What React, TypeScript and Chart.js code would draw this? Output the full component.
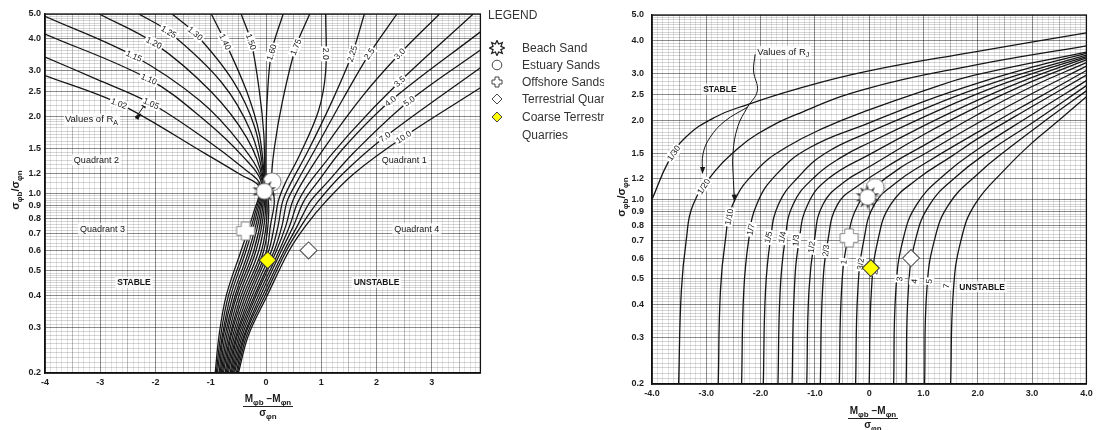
import React, { useEffect, useRef } from 'react';
import { Chart, registerables } from 'chart.js';

Chart.register(...registerables);

type Pt = [number, number];

// ---------- samples (same five samples plotted on both nomographs) ----------
const sampleNames = ['Beach Sand', 'Estuary Sands', 'Offshore Sands', 'Terrestrial Quarries', 'Coarse Terrestrial Quarries'];
const sampleMeanDiff = [-0.03, 0.11, -0.37, 0.77, 0.03];
const sampleSortRatio = [1.02, 1.11, 0.715, 0.6, 0.55];

// ---------- axes ----------
const yTickValues = [0.2, 0.3, 0.4, 0.5, 0.6, 0.7, 0.8, 0.9, 1.0, 1.2, 1.5, 2.0, 2.5, 3.0, 4.0, 5.0];
const leftXTickValues = [-4, -3, -2, -1, 0, 1, 2, 3];
const leftXTickLabels = ['-4', '-3', '-2', '-1', '0', '1', '2', '3'];
const rightXTickValues = [-4, -3, -2, -1, 0, 1, 2, 3, 4];
const rightXTickLabels = ['-4.0', '-3.0', '-2.0', '-1.0', '0', '1.0', '2.0', '3.0', '4.0'];

// ---------- left nomograph: values of R_A ----------
const raValues = ['1.02', '1.05', '1.10', '1.15', '1.20', '1.25', '1.30', '1.40', '1.50', '1.60', '1.75', '2.0', '2.25', '2.5', '3.0', '3.5', '4.0', '5.0', '7.0', '10.0'];
const raCurves: Pt[][] = [
  [[-4, 2.88], [-2.66, 2.24], [-1.1, 1.43], [-0.45, 1.18], [-0.12, 1.06], [-0.22, 0.85], [-0.45, 0.6], [-0.72, 0.4], [-0.85, 0.28], [-0.92, 0.2]],
  [[-4, 3.4], [-3.07, 2.79], [-2.08, 2.24], [-1.1, 1.63], [-0.4, 1.25], [-0.1, 1.08], [-0.19, 0.85], [-0.4, 0.6], [-0.68, 0.4], [-0.82, 0.28], [-0.9, 0.2]],
  [[-4, 4.18], [-2.12, 2.79], [-1.1, 1.92], [-0.4, 1.38], [-0.08, 1.1], [-0.16, 0.85], [-0.36, 0.6], [-0.64, 0.4], [-0.79, 0.28], [-0.88, 0.2]],
  [[-4, 4.9], [-2.39, 3.43], [-1.2, 2.3], [-0.45, 1.55], [-0.07, 1.12], [-0.13, 0.85], [-0.31, 0.6], [-0.6, 0.4], [-0.77, 0.28], [-0.85, 0.2]],
  [[-3.02, 5], [-2.03, 3.86], [-1.0, 2.5], [-0.35, 1.65], [-0.06, 1.13], [-0.1, 0.85], [-0.27, 0.6], [-0.56, 0.4], [-0.74, 0.28], [-0.83, 0.2]],
  [[-2.3, 5], [-1.76, 4.26], [-0.8, 2.7], [-0.28, 1.75], [-0.05, 1.14], [-0.07, 0.85], [-0.22, 0.6], [-0.53, 0.4], [-0.71, 0.28], [-0.81, 0.2]],
  [[-1.7, 5], [-1.28, 4.2], [-0.6, 2.75], [-0.2, 1.8], [-0.04, 1.15], [-0.04, 0.85], [-0.18, 0.6], [-0.49, 0.4], [-0.68, 0.28], [-0.79, 0.2]],
  [[-0.99, 5], [-0.74, 3.9], [-0.35, 2.5], [-0.12, 1.7], [-0.03, 1.15], [-0.01, 0.85], [-0.13, 0.6], [-0.45, 0.4], [-0.65, 0.28], [-0.77, 0.2]],
  [[-0.45, 5], [-0.27, 3.9], [-0.12, 2.5], [-0.04, 1.7], [-0.02, 1.15], [0.02, 0.85], [-0.08, 0.6], [-0.41, 0.4], [-0.63, 0.28], [-0.74, 0.2]],
  [[0.31, 5], [0.1, 3.55], [0.02, 2.3], [0.0, 1.6], [0.0, 1.15], [0.05, 0.85], [-0.04, 0.6], [-0.37, 0.4], [-0.6, 0.28], [-0.72, 0.2]],
  [[0.79, 5], [0.54, 3.72], [0.3, 2.3], [0.15, 1.5], [0.1, 1.12], [0.15, 0.93], [0.08, 0.75], [0.01, 0.6], [-0.33, 0.4], [-0.57, 0.28], [-0.7, 0.2]],
  [[1.08, 5], [1.08, 3.0], [0.95, 2.1], [0.6, 1.4], [0.35, 1.1], [0.22, 0.93], [0.15, 0.75], [0.05, 0.6], [-0.29, 0.4], [-0.54, 0.28], [-0.68, 0.2]],
  [[1.78, 5], [1.56, 3.5], [1.2, 2.3], [0.75, 1.45], [0.45, 1.1], [0.3, 0.93], [0.22, 0.75], [0.1, 0.6], [-0.25, 0.4], [-0.52, 0.28], [-0.65, 0.2]],
  [[2.37, 5], [1.87, 3.5], [1.4, 2.35], [0.9, 1.5], [0.55, 1.1], [0.38, 0.93], [0.29, 0.75], [0.15, 0.6], [-0.21, 0.4], [-0.49, 0.28], [-0.63, 0.2]],
  [[3.14, 5], [2.42, 3.5], [1.75, 2.4], [1.05, 1.5], [0.65, 1.1], [0.48, 0.93], [0.36, 0.75], [0.19, 0.6], [-0.18, 0.4], [-0.46, 0.28], [-0.61, 0.2]],
  [[3.75, 5], [2.42, 2.73], [1.5, 1.7], [0.85, 1.15], [0.58, 0.93], [0.43, 0.75], [0.24, 0.6], [-0.14, 0.4], [-0.43, 0.28], [-0.59, 0.2]],
  [[3.88, 4.26], [2.25, 2.29], [1.4, 1.5], [0.95, 1.12], [0.68, 0.93], [0.5, 0.75], [0.28, 0.6], [-0.1, 0.4], [-0.4, 0.28], [-0.57, 0.2]],
  [[3.88, 3.62], [2.59, 2.29], [1.6, 1.45], [1.1, 1.1], [0.8, 0.93], [0.57, 0.75], [0.33, 0.6], [-0.06, 0.4], [-0.38, 0.28], [-0.54, 0.2]],
  [[3.88, 3.09], [2.15, 1.66], [1.4, 1.2], [0.94, 0.93], [0.64, 0.75], [0.37, 0.6], [-0.02, 0.4], [-0.35, 0.28], [-0.52, 0.2]],
  [[3.88, 2.58], [2.49, 1.66], [1.6, 1.2], [1.08, 0.93], [0.72, 0.75], [0.42, 0.6], [0.02, 0.4], [-0.32, 0.28], [-0.5, 0.2]],
];
const raLabelX = [-2.66, -2.08, -2.12, -2.39, -2.03, -1.76, -1.28, -0.74, -0.27, 0.1, 0.54, 1.08, 1.56, 1.87, 2.42, 2.42, 2.25, 2.59, 2.15, 2.49];
const raLabelY = [2.24, 2.24, 2.79, 3.43, 3.86, 4.26, 4.2, 3.9, 3.9, 3.55, 3.72, 3.5, 3.5, 3.5, 3.5, 2.73, 2.29, 2.29, 1.66, 1.66];

const leftNotes = ['Quadrant 2', 'Quadrant 1', 'Quadrant 3', 'Quadrant 4', 'STABLE', 'UNSTABLE'];
const leftNoteX = [-3.07, 2.5, -2.96, 2.73, -2.39, 2.0];
const leftNoteY = [1.35, 1.35, 0.73, 0.73, 0.45, 0.45];
const leftArrows: Pt[][] = [
  [[-2.36, 1.95], [-2.27, 2.04]],
  [[-2.36, 1.97], [-2.16, 2.27]],
];

// ---------- right nomograph: values of R_J ----------
const rjValues = ['1/30', '1/20', '1/10', '1/7', '1/5', '1/4', '1/3', '1/2', '2/3', '1', '3/2', '2', '3', '4', '5', '7'];
const rjCurves: Pt[][] = [
  [[-4.0, 1.0], [-3.69, 1.4], [-3.38, 1.72], [-2.84, 2.05], [-2.24, 2.29], [-1.34, 2.62], [-0.07, 3.05], [1.92, 3.62], [4.0, 4.28]],
  [[-3.51, 0.2], [-3.46, 0.45], [-3.37, 0.7], [-3.24, 0.96], [-2.84, 1.28], [-2.48, 1.52], [-2.06, 1.77], [-1.34, 2.1], [-0.07, 2.62], [1.92, 3.22], [4.0, 3.82]],
  [[-2.78, 0.2], [-2.74, 0.45], [-2.65, 0.7], [-2.51, 0.96], [-2.06, 1.3], [-1.52, 1.58], [-0.8, 1.88], [-0.07, 2.16], [1.0, 2.58], [1.92, 2.95], [4.0, 3.62]],
  [[-2.35, 0.2], [-2.31, 0.45], [-2.22, 0.7], [-2.07, 0.96], [-1.7, 1.25], [-1.1, 1.57], [0.0, 1.95], [1.0, 2.35], [2.0, 2.76], [3.0, 3.17], [4.0, 3.58]],
  [[-1.95, 0.2], [-1.91, 0.45], [-1.82, 0.7], [-1.67, 0.96], [-1.3, 1.22], [-0.8, 1.5], [0.0, 1.8], [1.0, 2.2], [2.0, 2.64], [3.0, 3.08], [4.0, 3.52]],
  [[-1.68, 0.2], [-1.64, 0.45], [-1.55, 0.7], [-1.4, 0.96], [-1.0, 1.22], [-0.5, 1.45], [0.0, 1.64], [1.0, 2.05], [2.0, 2.52], [3.0, 3.0], [4.0, 3.48]],
  [[-1.42, 0.2], [-1.38, 0.45], [-1.29, 0.7], [-1.13, 0.96], [-0.75, 1.2], [0.0, 1.48], [1.0, 1.9], [2.0, 2.38], [3.0, 2.9], [4.0, 3.44]],
  [[-1.15, 0.2], [-1.11, 0.45], [-1.01, 0.7], [-0.85, 0.96], [-0.45, 1.17], [0.0, 1.33], [1.0, 1.76], [2.0, 2.25], [3.0, 2.8], [4.0, 3.38]],
  [[-0.9, 0.2], [-0.86, 0.45], [-0.76, 0.7], [-0.58, 0.96], [-0.2, 1.13], [0.5, 1.4], [1.0, 1.6], [2.0, 2.1], [3.0, 2.68], [4.0, 3.3]],
  [[-0.55, 0.2], [-0.51, 0.45], [-0.4, 0.7], [-0.2, 0.96], [0.11, 1.12], [0.6, 1.33], [1.0, 1.48], [2.0, 1.95], [3.0, 2.52], [4.0, 3.2]],
  [[-0.25, 0.2], [-0.21, 0.45], [-0.1, 0.7], [0.1, 0.96], [0.5, 1.16], [1.0, 1.36], [2.0, 1.8], [3.0, 2.36], [4.0, 3.08]],
  [[0.0, 0.2], [0.04, 0.45], [0.16, 0.7], [0.4, 0.96], [0.9, 1.2], [1.5, 1.45], [2.0, 1.7], [3.0, 2.25], [4.0, 2.96]],
  [[0.45, 0.2], [0.49, 0.45], [0.62, 0.7], [0.88, 0.96], [1.4, 1.25], [2.0, 1.55], [3.0, 2.1], [4.0, 2.82]],
  [[0.68, 0.2], [0.72, 0.45], [0.85, 0.7], [1.12, 0.96], [1.6, 1.22], [2.2, 1.52], [3.0, 1.95], [4.0, 2.7]],
  [[1.02, 0.2], [1.06, 0.45], [1.2, 0.7], [1.47, 0.96], [2.0, 1.25], [2.6, 1.58], [3.3, 2.03], [4.0, 2.58]],
  [[1.5, 0.2], [1.55, 0.45], [1.69, 0.7], [1.95, 0.96], [2.5, 1.3], [3.0, 1.64], [3.5, 2.0], [4.0, 2.45]],
];
const rjLabelX = [-3.6, -3.05, -2.58, -2.18, -1.86, -1.6, -1.35, -1.06, -0.8, -0.47, -0.16, 0.1, 0.56, 0.83, 1.1, 1.42];
const rjLabelY = [1.5, 1.12, 0.86, 0.77, 0.72, 0.72, 0.7, 0.66, 0.64, 0.58, 0.57, 0.53, 0.5, 0.49, 0.49, 0.47];

const rightNotes = ['STABLE', 'UNSTABLE'];
const rightNoteX = [-2.75, 2.08];
const rightNoteY = [2.62, 0.467];
const rightArrows: Pt[][] = [
  [[-2.1, 3.55], [-2.13, 3.07], [-2.06, 2.58], [-2.24, 2.24], [-2.42, 1.89], [-2.51, 1.49], [-2.5, 1.18], [-2.48, 0.99]],
  [[-2.24, 2.24], [-2.66, 1.98], [-2.93, 1.72], [-3.06, 1.49], [-3.07, 1.26]],
];

// ---------- styling helpers ----------
const FONT = '"Liberation Sans", Arial, Helvetica, sans-serif';
const INK = '#161616';

function near(a: number, b: number) {
  return Math.abs(a - b) < 1e-6;
}

function gridYValues(): number[] {
  const g: number[] = [];
  for (let v = 20; v < 50; v += 1) g.push(v / 100);
  for (let v = 50; v < 100; v += 2) g.push(v / 100);
  for (let v = 100; v < 200; v += 5) g.push(v / 100);
  for (let v = 200; v <= 500; v += 10) g.push(v / 100);
  return g;
}

function gridXValues(maxTenths: number): number[] {
  const g: number[] = [];
  for (let i = -40; i <= maxTenths; i++) g.push(i / 10);
  return g;
}

function makeMarkerCanvas(kind: string): HTMLCanvasElement {
  const c = document.createElement('canvas');
  const s = kind === 'sun' ? 28 : 22;
  c.width = s;
  c.height = s;
  const g = c.getContext('2d')!;
  g.translate(s / 2, s / 2);
  if (kind === 'sun') {
    g.fillStyle = '#2a2a2a';
    for (let k = 0; k < 10; k++) {
      const a = (k * Math.PI * 2) / 10 + 0.3;
      g.beginPath();
      g.moveTo(Math.cos(a - 0.22) * 7, Math.sin(a - 0.22) * 7);
      g.lineTo(Math.cos(a) * 12.5, Math.sin(a) * 12.5);
      g.lineTo(Math.cos(a + 0.22) * 7, Math.sin(a + 0.22) * 7);
      g.closePath();
      g.fill();
    }
    g.beginPath();
    g.arc(0, 0, 8, 0, Math.PI * 2);
    g.fillStyle = '#fff';
    g.fill();
    g.strokeStyle = '#666';
    g.lineWidth = 1;
    g.stroke();
  } else if (kind === 'circle') {
    g.beginPath();
    g.arc(0, 0, 9, 0, Math.PI * 2);
    g.fillStyle = '#fff';
    g.fill();
    g.strokeStyle = '#777';
    g.lineWidth = 1;
    g.stroke();
  } else {
    const a = 4.3;
    const L = 9;
    const pts = [[-a, -L], [a, -L], [a, -a], [L, -a], [L, a], [a, a], [a, L], [-a, L], [-a, a], [-L, a], [-L, -a], [-a, -a]];
    g.beginPath();
    pts.forEach(([x, y], i) => (i ? g.lineTo(x, y) : g.moveTo(x, y)));
    g.closePath();
    g.lineJoin = 'round';
    g.fillStyle = '#fff';
    g.fill();
    g.strokeStyle = '#888';
    g.lineWidth = 1;
    g.stroke();
  }
  return c;
}

function distToSeg(px: number, py: number, a: number[], b: number[]) {
  const dx = b[0] - a[0];
  const dy = b[1] - a[1];
  const l2 = dx * dx + dy * dy || 1;
  let t = ((px - a[0]) * dx + (py - a[1]) * dy) / l2;
  t = Math.max(0, Math.min(1, t));
  const qx = a[0] + t * dx;
  const qy = a[1] + t * dy;
  return Math.hypot(px - qx, py - qy);
}

function angleAt(curve: Pt[], lx: number, ly: number, xs: any, ys: any) {
  const P = curve.map(([a, b]) => [xs.getPixelForValue(a), ys.getPixelForValue(b)]);
  const lpx = xs.getPixelForValue(lx);
  const lpy = ys.getPixelForValue(ly);
  let best = 0;
  let bd = Infinity;
  for (let k = 0; k < P.length - 1; k++) {
    const d = distToSeg(lpx, lpy, P[k], P[k + 1]);
    if (d < bd) {
      bd = d;
      best = k;
    }
  }
  let ang = Math.atan2(P[best + 1][1] - P[best][1], P[best + 1][0] - P[best][0]);
  if (ang > Math.PI / 2) ang -= Math.PI;
  if (ang < -Math.PI / 2) ang += Math.PI;
  return ang;
}

function drawRotLabel(ctx: CanvasRenderingContext2D, text: string, px: number, py: number, ang: number, font: string) {
  ctx.save();
  ctx.translate(px, py);
  ctx.rotate(ang);
  ctx.font = font;
  const w = ctx.measureText(text).width;
  ctx.fillStyle = '#fff';
  ctx.fillRect(-w / 2 - 1.5, -5, w + 3, 10);
  ctx.fillStyle = INK;
  ctx.textAlign = 'center';
  ctx.textBaseline = 'middle';
  ctx.fillText(text, 0, 0.5);
  ctx.restore();
}

function drawNote(ctx: CanvasRenderingContext2D, text: string, px: number, py: number, font: string) {
  ctx.save();
  ctx.font = font;
  const w = ctx.measureText(text).width;
  ctx.fillStyle = 'rgba(255,255,255,0.75)';
  ctx.fillRect(px - w / 2 - 2, py - 5.5, w + 4, 11);
  ctx.fillStyle = INK;
  ctx.textAlign = 'center';
  ctx.textBaseline = 'middle';
  ctx.fillText(text, px, py + 0.5);
  ctx.restore();
}

function drawValuesOf(ctx: CanvasRenderingContext2D, sub: string, px: number, py: number) {
  ctx.save();
  ctx.font = `9.5px ${FONT}`;
  const main = 'Values of R';
  const w = ctx.measureText(main).width;
  ctx.font = `7px ${FONT}`;
  const ws = ctx.measureText(sub).width;
  ctx.fillStyle = 'rgba(255,255,255,0.8)';
  ctx.fillRect(px - 1, py - 6, w + ws + 3, 13);
  ctx.fillStyle = INK;
  ctx.textBaseline = 'middle';
  ctx.textAlign = 'left';
  ctx.font = `9.5px ${FONT}`;
  ctx.fillText(main, px, py);
  ctx.font = `7px ${FONT}`;
  ctx.fillText(sub, px + w, py + 3);
  ctx.restore();
}

function drawArrowHead(ctx: CanvasRenderingContext2D, path: Pt[], xs: any, ys: any) {
  const n = path.length;
  const x1 = xs.getPixelForValue(path[n - 2][0]);
  const y1 = ys.getPixelForValue(path[n - 2][1]);
  const x2 = xs.getPixelForValue(path[n - 1][0]);
  const y2 = ys.getPixelForValue(path[n - 1][1]);
  const a = Math.atan2(y2 - y1, x2 - x1);
  ctx.save();
  ctx.translate(x2, y2);
  ctx.rotate(a);
  ctx.beginPath();
  ctx.moveTo(1, 0);
  ctx.lineTo(-6, -2.6);
  ctx.lineTo(-6, 2.6);
  ctx.closePath();
  ctx.fillStyle = INK;
  ctx.fill();
  ctx.restore();
}

function buildConfig(side: 'left' | 'right', markers: any[]) {
  const isLeft = side === 'left';
  const curves = isLeft ? raCurves : rjCurves;
  const curveNames = isLeft ? raValues : rjValues;
  const labelX = isLeft ? raLabelX : rjLabelX;
  const labelY = isLeft ? raLabelY : rjLabelY;
  const arrows = isLeft ? leftArrows : rightArrows;
  const notes = isLeft ? leftNotes : rightNotes;
  const noteX = isLeft ? leftNoteX : rightNoteX;
  const noteY = isLeft ? leftNoteY : rightNoteY;
  const xTickValues = isLeft ? leftXTickValues : rightXTickValues;
  const xTickLabels = isLeft ? leftXTickLabels : rightXTickLabels;
  const gridY = gridYValues();
  const gridX = gridXValues(isLeft ? 38 : 40);

  const datasets: any[] = [];
  sampleNames.forEach((name, i) => {
    const isDiamond = i >= 3;
    datasets.push({
      label: name,
      data: [{ x: sampleMeanDiff[i], y: sampleSortRatio[i] }],
      showLine: false,
      pointStyle: isDiamond ? 'rectRot' : markers[i],
      pointRadius: isDiamond ? 8.5 : 9,
      backgroundColor: i === 4 ? '#ffff00' : '#ffffff',
      borderColor: i === 4 ? '#3a3a3a' : '#555555',
      borderWidth: isDiamond ? 1.1 : 0,
    });
  });
  const firstLineIndex = datasets.length;
  arrows.forEach((path, k) => {
    datasets.push({
      label: 'arrow' + k,
      data: path.map(([x, y]) => ({ x, y })),
      showLine: true,
      borderColor: INK,
      borderWidth: 1,
      pointRadius: 0,
      tension: 0.4,
      fill: false,
    });
  });
  curves.forEach((c, k) => {
    datasets.push({
      label: 'R = ' + curveNames[k],
      data: c.map(([x, y]) => ({ x, y })),
      showLine: true,
      borderColor: INK,
      borderWidth: 1.3,
      pointRadius: 0,
      tension: isLeft ? 0.35 : 0.45,
      fill: false,
    });
  });

  const tickFont = { family: FONT, size: 9, weight: 'bold' as const };

  const overlay = {
    id: 'overlay-' + side,
    afterDatasetDraw(chart: any, args: any) {
      if (args.index !== firstLineIndex) return;
      const { ctx, chartArea } = chart;
      const xs = chart.scales.x;
      const ys = chart.scales.y;
      ctx.save();
      ctx.beginPath();
      ctx.rect(chartArea.left, chartArea.top, chartArea.right - chartArea.left, chartArea.bottom - chartArea.top);
      ctx.clip();
      arrows.forEach((path) => drawArrowHead(ctx, path, xs, ys));
      curveNames.forEach((t, i) => {
        const ang = angleAt(curves[i], labelX[i], labelY[i], xs, ys);
        drawRotLabel(ctx, t, xs.getPixelForValue(labelX[i]), ys.getPixelForValue(labelY[i]), ang, `8.5px ${FONT}`);
      });
      notes.forEach((t, i) => {
        const bold = t.indexOf('STABLE') >= 0;
        drawNote(ctx, t, xs.getPixelForValue(noteX[i]), ys.getPixelForValue(noteY[i]), `${bold ? 'bold 8.5px' : '9px'} ${FONT}`);
      });
      if (isLeft) drawValuesOf(ctx, 'A', xs.getPixelForValue(-3.64), ys.getPixelForValue(1.94));
      else drawValuesOf(ctx, 'J', xs.getPixelForValue(-2.06), ys.getPixelForValue(3.62));
      ctx.restore();
    },
    afterDraw(chart: any) {
      const { ctx, chartArea } = chart;
      ctx.save();
      ctx.strokeStyle = '#111';
      ctx.lineWidth = 1.3;
      ctx.strokeRect(chartArea.left, chartArea.top, chartArea.right - chartArea.left, chartArea.bottom - chartArea.top);
      ctx.restore();
    },
  };

  return {
    type: 'scatter' as const,
    data: { datasets },
    plugins: [overlay],
    options: {
      responsive: false,
      animation: false as const,
      devicePixelRatio: 1,
      events: [],
      layout: { padding: { left: 0, top: isLeft ? 14 : 15, right: isLeft ? 6 : 2, bottom: 0 } },
      plugins: { legend: { display: false }, tooltip: { enabled: false }, title: { display: false } },
      scales: {
        x: {
          type: 'linear' as const,
          min: -4,
          max: isLeft ? 3.88 : 4,
          afterBuildTicks: (s: any) => {
            s.ticks = gridX.map((v) => ({ value: v }));
          },
          afterFit: (s: any) => {
            s.height = isLeft ? 57 : 46;
            s.paddingLeft = 0;
            s.paddingRight = 0;
          },
          ticks: {
            autoSkip: false,
            maxRotation: 0,
            minRotation: 0,
            padding: 4,
            font: tickFont,
            color: '#1e1e1e',
            callback: (v: any) => {
              const k = xTickValues.findIndex((t) => near(t, Number(v)));
              return k >= 0 ? xTickLabels[k] : '';
            },
          },
          grid: {
            drawTicks: false,
            lineWidth: 1,
            color: (c: any) => {
              const v = c.tick ? c.tick.value : 0;
              if (near(v, Math.round(v))) return 'rgba(0,0,0,0.45)';
              if (near(v * 2, Math.round(v * 2))) return 'rgba(0,0,0,0.25)';
              return 'rgba(0,0,0,0.11)';
            },
          },
          border: { display: true, color: '#111', width: 1.3 },
        },
        y: {
          type: 'logarithmic' as const,
          min: 0.2,
          max: 5,
          afterBuildTicks: (s: any) => {
            s.ticks = gridY.map((v) => ({ value: v }));
          },
          afterFit: (s: any) => {
            s.width = isLeft ? 45 : 62;
            s.paddingTop = 0;
            s.paddingBottom = 0;
          },
          ticks: {
            autoSkip: false,
            padding: isLeft ? 4 : 8,
            font: tickFont,
            color: '#1e1e1e',
            callback: (v: any) => {
              const k = yTickValues.findIndex((t) => near(t, Number(v)));
              return k >= 0 ? yTickValues[k].toFixed(1) : '';
            },
          },
          grid: {
            drawTicks: false,
            lineWidth: 1,
            color: (c: any) => {
              const v = c.tick ? c.tick.value : 0;
              return yTickValues.some((t) => near(t, v)) ? 'rgba(0,0,0,0.45)' : 'rgba(0,0,0,0.16)';
            },
          },
          border: { display: true, color: '#111', width: 1.3 },
        },
      },
    },
  };
}

function NomoChart({ side }: { side: 'left' | 'right' }) {
  const ref = useRef<HTMLCanvasElement>(null);
  useEffect(() => {
    const markers = [makeMarkerCanvas('sun'), makeMarkerCanvas('circle'), makeMarkerCanvas('plus')];
    const chart = new Chart(ref.current as HTMLCanvasElement, buildConfig(side, markers) as any);
    return () => chart.destroy();
  }, [side]);
  const isLeft = side === 'left';
  const w = isLeft ? 490 : 506;
  return (
    <canvas
      ref={ref}
      width={w}
      height={430}
      style={{ position: 'absolute', left: isLeft ? 0 : 590, top: 0, width: w, height: 430 }}
    />
  );
}

const subStyle: React.CSSProperties = { fontSize: 8, position: 'relative', top: 3, lineHeight: 0 };

function YTitle({ cx, cy }: { cx: number; cy: number }) {
  return (
    <div
      style={{
        position: 'absolute',
        left: cx - 45,
        top: cy - 8,
        width: 90,
        height: 16,
        lineHeight: '16px',
        textAlign: 'center',
        transform: 'rotate(-90deg)',
        fontFamily: FONT,
        fontSize: 11,
        fontWeight: 'bold',
        color: '#1a1a1a',
        whiteSpace: 'nowrap',
      }}
    >
      σ<span style={subStyle}>φb</span>/σ<span style={subStyle}>φn</span>
    </div>
  );
}

function XTitle({ cx, top }: { cx: number; top: number }) {
  return (
    <div
      style={{
        position: 'absolute',
        left: cx - 45,
        top,
        width: 90,
        textAlign: 'center',
        fontFamily: FONT,
        fontSize: 10,
        fontWeight: 'bold',
        color: '#1a1a1a',
        whiteSpace: 'nowrap',
      }}
    >
      <div style={{ display: 'inline-block' }}>
        <div style={{ borderBottom: '1.2px solid #222', padding: '0 2px 2px', lineHeight: '11px' }}>
          M<span style={subStyle}>φb</span> −M<span style={subStyle}>φn</span>
        </div>
        <div style={{ lineHeight: '12px' }}>
          σ<span style={subStyle}>φn</span>
        </div>
      </div>
    </div>
  );
}

function LegendIcon({ index }: { index: number }) {
  if (index === 0) {
    const pts: string[] = [];
    for (let k = 0; k < 16; k++) {
      const r = k % 2 ? 4.3 : 7.5;
      const a = (k * Math.PI) / 8 - Math.PI / 2;
      pts.push(`${(8 + r * Math.cos(a)).toFixed(2)},${(8 + r * Math.sin(a)).toFixed(2)}`);
    }
    return (
      <svg width="16" height="16">
        <polygon points={pts.join(' ')} fill="#fff" stroke="#222" strokeWidth="1.3" />
      </svg>
    );
  }
  if (index === 1) {
    return (
      <svg width="16" height="16">
        <circle cx="8" cy="8" r="4.8" fill="#fff" stroke="#444" strokeWidth="1" />
      </svg>
    );
  }
  if (index === 2) {
    return (
      <svg width="16" height="16">
        <path d="M6,3 H10 V6 H13 V10 H10 V13 H6 V10 H3 V6 H6 Z" fill="#fff" stroke="#444" strokeWidth="1" strokeLinejoin="round" />
      </svg>
    );
  }
  return (
    <svg width="16" height="16">
      <polygon points="8,3 13,8 8,13 3,8" fill={index === 4 ? '#ffff00' : '#fff'} stroke="#444" strokeWidth="1" />
    </svg>
  );
}

const legendRowY = [48, 65, 82, 99, 117];

function Legend() {
  return (
    <div
      style={{
        position: 'absolute',
        left: 484,
        top: 0,
        width: 120,
        height: 150,
        overflow: 'hidden',
        fontFamily: FONT,
        fontSize: 12,
        color: '#333',
      }}
    >
      <div style={{ position: 'absolute', left: 4, top: 8, lineHeight: '14px' }}>LEGEND</div>
      {sampleNames.map((name, i) => (
        <div key={name} style={{ position: 'absolute', left: 0, top: legendRowY[i] - 8, width: 160, height: 16 }}>
          <div style={{ position: 'absolute', left: 5, top: 0, width: 16, height: 16 }}>
            <LegendIcon index={i} />
          </div>
          <div
            style={{
              position: 'absolute',
              left: 38,
              top: 1,
              lineHeight: '18px',
              marginTop: -2,
              width: i === 4 ? 112 : undefined,
              whiteSpace: i === 4 ? 'normal' : 'nowrap',
            }}
          >
            {name}
          </div>
        </div>
      ))}
    </div>
  );
}

export default function App() {
  return (
    <div
      style={{
        position: 'fixed',
        left: 0,
        top: 0,
        width: 1096,
        height: 430,
        background: '#fff',
        overflow: 'hidden',
      }}
    >
      <NomoChart side="left" />
      <NomoChart side="right" />
      <Legend />
      <YTitle cx={15} cy={190} />
      <YTitle cx={621} cy={197} />
      <XTitle cx={268} top={393} />
      <XTitle cx={873} top={405} />
    </div>
  );
}
